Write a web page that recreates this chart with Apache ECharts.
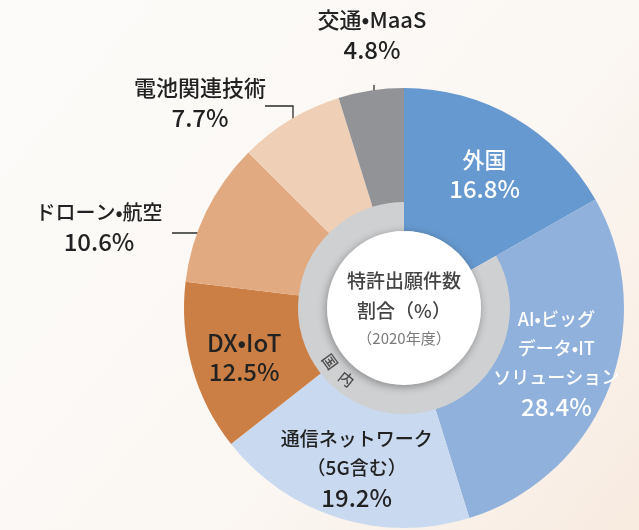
<!DOCTYPE html>
<html>
<head>
<meta charset="utf-8">
<script src="https://cdn.jsdelivr.net/npm/echarts@6/dist/echarts.min.js"></script>
<style>
  html, body { margin: 0; padding: 0; }
  #chart { width: 639px; height: 530px; }
</style>
</head>
<body>
<div id="chart"></div>
<script>
// 技術分野別 特許出願件数の割合（2020年度）
const categories = [
  '外国',
  'AI•ビッグ\nデータ•IT\nソリューション',
  '通信ネットワーク\n（5G含む）',
  'DX•IoT',
  'ドローン•航空',
  '電池関連技術',
  '交通•MaaS'
];
const shares = [16.8, 28.4, 19.2, 12.5, 10.6, 7.7, 4.8];
const centerLines = ['特許出願件数', '割合（%）', '（2020年度）'];
const ringLabel = ['国', '内'];

// styling
const sliceColors = ['#6699cf', '#8fb1dc', '#c9daf0', '#cc7f45', '#e1aa80', '#efd0b6', '#929396'];
const labelColors = ['#ffffff', '#ffffff', '#222222', '#222222', '#222222', '#222222', '#222222'];
const nameFontSizes = [22, 18, 19, 24, 20, 22, 22];
const VALUE_FONT_SIZE = 24;

const FONT = '"Noto Sans CJK JP", "Noto Sans", sans-serif';
const FONT_MEDIUM = '"Noto Sans CJK JP Medium", "Noto Sans CJK JP", "Noto Sans", sans-serif';
const CX = 404, CY = 308;
const R_OUT = 220, R_MID = 106, R_IN = 77;

// nudges for the labels kept inside their slices
const insideNudge = {
  0: [-3, 10],
  1: [-2, -6],
  2: [2, 2],
  3: [0, 5]
};
// slices 4..6 carry their labels outside with leader lines
const outsideLayout = {
  4: { x: 99,  y: 227, line: [[233, 233], [172, 233]] },
  5: { x: 200, y: 103, line: [[293, 141], [293, 106], [265, 106]] },
  6: { x: 372, y: 35,  line: [[374, 113], [374, 85]] }
};

const domesticTotal = shares.slice(1).reduce((a, b) => a + b, 0);

const outerData = categories.map((name, i) => {
  const outside = i in outsideLayout;
  return {
    name: name,
    value: shares[i],
    itemStyle: { color: sliceColors[i] },
    label: {
      position: outside ? 'outside' : 'inside',
      rich: {
        n: {
          fontFamily: FONT_MEDIUM, fontWeight: 'normal', color: labelColors[i],
          fontSize: nameFontSizes[i], lineHeight: 29, align: 'center'
        },
        v: {
          fontFamily: FONT_MEDIUM, fontWeight: 'normal', color: labelColors[i],
          fontSize: VALUE_FONT_SIZE, lineHeight: 30, align: 'center'
        }
      }
    },
    labelLine: { show: outside }
  };
});

// characters of the ring caption placed along the grey band
const ringAngles = [144, 129];
const ringGraphics = ringLabel.map((ch, i) => {
  const a = ringAngles[i] * Math.PI / 180;
  const r = (R_MID + R_IN) / 2;
  return {
    type: 'text',
    x: CX + r * Math.cos(a),
    y: CY + r * Math.sin(a),
    rotation: (90 - ringAngles[i]) * Math.PI / 180,
    z: 100,
    style: {
      text: ch,
      fill: '#4d4d4d',
      font: '15px ' + FONT_MEDIUM,
      align: 'center',
      verticalAlign: 'middle'
    }
  };
});

const chart = echarts.init(document.getElementById('chart'));
chart.setOption({
  backgroundColor: {
    type: 'linear', x: 0, y: 0, x2: 1, y2: 1,
    colorStops: [
      { offset: 0, color: '#fcfbf9' },
      { offset: 0.6, color: '#fbf7f3' },
      { offset: 1, color: '#f8ebe0' }
    ]
  },
  animation: false,
  graphic: ringGraphics,
  series: [
    {
      // inner band: foreign share continues inward, domestic share grey
      type: 'pie',
      center: [CX, CY],
      radius: [R_IN, R_MID + 3],
      startAngle: 90,
      clockwise: true,
      silent: true,
      z: 1,
      label: { show: false },
      labelLine: { show: false },
      data: [
        { name: categories[0], value: shares[0], itemStyle: { color: sliceColors[0] } },
        { name: '国内', value: domesticTotal, itemStyle: { color: '#cfd0d2' } }
      ]
    },
    {
      // main ring
      type: 'pie',
      center: [CX, CY],
      radius: [R_MID, R_OUT],
      startAngle: 90,
      clockwise: true,
      avoidLabelOverlap: false,
      silent: true,
      z: 2,
      data: outerData,
      label: {
        show: true,
        align: 'center',
        textBorderWidth: 0,
        formatter: p => '{n|' + p.name + '}\n{v|' + p.value.toFixed(1) + '%}'
      },
      labelLine: {
        lineStyle: { color: '#2b2b2b', width: 1.3 }
      },
      labelLayout: function (params) {
        const spec = outsideLayout[params.dataIndex];
        if (!spec) {
          const nudge = insideNudge[params.dataIndex] || [0, 0];
          return { dx: nudge[0], dy: nudge[1] };
        }
        return {
          x: spec.x,
          y: spec.y,
          align: 'center',
          verticalAlign: 'middle',
          labelLinePoints: spec.line
        };
      }
    },
    {
      // white centre disc with caption
      type: 'pie',
      center: [CX, CY],
      radius: [0, R_IN],
      silent: true,
      z: 3,
      itemStyle: {
        color: '#ffffff',
        shadowBlur: 8,
        shadowOffsetX: -1,
        shadowOffsetY: 2,
        shadowColor: 'rgba(0,0,0,0.35)'
      },
      labelLine: { show: false },
      label: {
        show: true,
        position: 'center',
        formatter: '{a|' + centerLines[0] + '}\n{a|' + centerLines[1] + '}\n{b|' + centerLines[2] + '}',
        rich: {
          a: { fontFamily: FONT_MEDIUM, fontSize: 19, fontWeight: 'normal', color: '#444444', lineHeight: 30 },
          b: { fontFamily: FONT, fontSize: 15, color: '#7a7a7a', lineHeight: 24 }
        }
      },
      data: [{ value: 1, name: 'center' }]
    }
  ]
});
</script>
</body>
</html>
